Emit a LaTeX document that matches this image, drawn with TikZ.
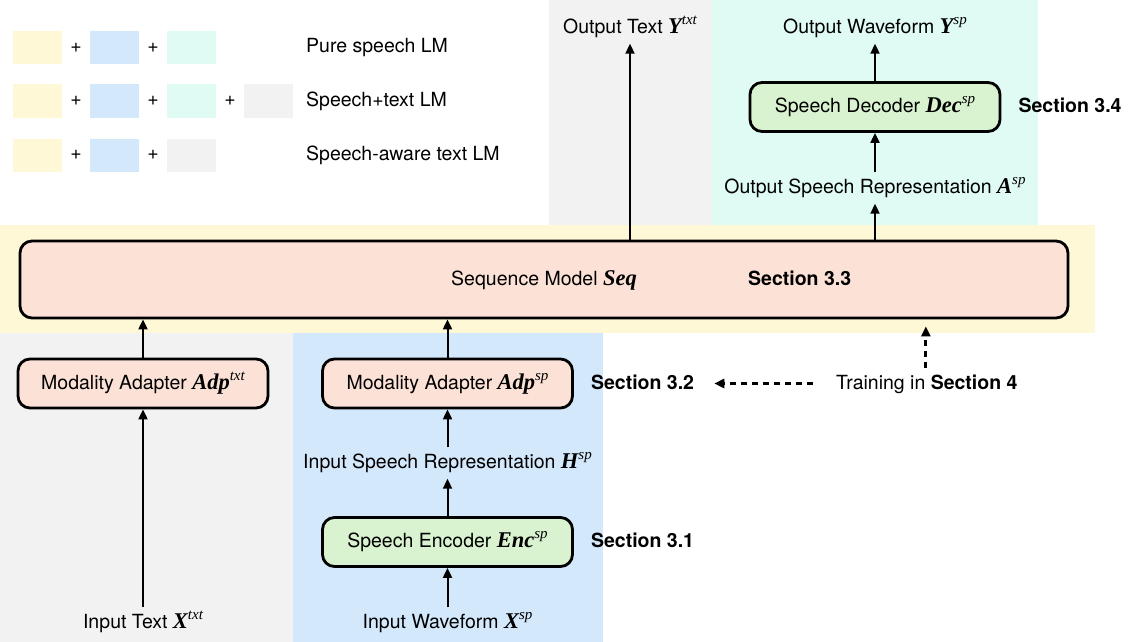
\documentclass[tikz,border=0pt]{standalone}
\usepackage{fontspec}
\setmainfont{TeX Gyre Heros}
\newfontfamily\varfont{Liberation Serif}
\usetikzlibrary{arrows.meta,positioning}
\definecolor{bgyellow}{HTML}{FFF8D6}
\definecolor{bgblue}{HTML}{D4E8FB}
\definecolor{bgcyan}{HTML}{E0FBF4}
\definecolor{bggray}{HTML}{F2F2F2}
\definecolor{boxpink}{HTML}{FBE1D6}
\definecolor{boxgreen}{HTML}{D9F2D0}
\newcommand{\mvar}[2]{{\varfont\bfseries\itshape\fontsize{22.5}{24}\selectfont #1\raisebox{0.4em}{\mdseries\fontsize{15}{16}\selectfont #2}}}
\tikzset{
	block/.style={draw,line width=2.8pt,rounded corners=12pt,minimum width=250pt,minimum height=49pt,inner sep=0pt,text height=15pt,text depth=4pt},
	pinkblock/.style={block,fill=boxpink},
	greenblock/.style={block,fill=boxgreen},
	lbl/.style={inner xsep=0pt,inner ysep=6pt,text height=15pt,text depth=4pt},
	sect/.style={font=\fontsize{19.5}{23}\selectfont\bfseries,inner sep=0pt,text height=15pt,text depth=4pt},
	flow/.style={-{Triangle[length=10pt,width=9pt]},line width=2pt},
	trainflow/.style={flow,dash pattern=on 6pt off 5pt,line width=2.8pt}
}

\begin{document}
\begin{tikzpicture}[x=1pt,y=-1pt,font=\fontsize{19.5}{23}\selectfont]
\useasboundingbox (0,0) rectangle (1130,642);
% background regions
\fill [bggray]   (549,0)   rectangle (712,225);
\fill [bgcyan]   (712,0)   rectangle (1038,225);
\fill [bgyellow] (0,225)   rectangle (1095,333);
\fill [bggray]   (0,333)   rectangle (293,642);
\fill [bgblue]   (293,333) rectangle (603,642);

% legend
\foreach \ylev/\cols in {47.5/{bgyellow,bgblue,bgcyan},101/{bgyellow,bgblue,bgcyan,bggray},155/{bgyellow,bgblue,bggray}}
	\foreach \c [count=\i] in \cols {
		\fill [\c] (13+77*\i-77,\ylev-16.5) rectangle +(49,33);
		\ifnum\i>1 \node at (77*\i-78,\ylev) {+}; \fi
	};
\node [lbl,anchor=west] (lgpure)  at (306,47.5) {Pure speech LM};
\node [lbl,anchor=west] (lgmix)   at (306,101)  {Speech+text LM};
\node [lbl,anchor=west] (lgaware) at (306,155)  {Speech-aware text LM};

% blocks
\node [pinkblock,minimum width=1048pt,minimum height=77pt] (seq) at (544,279.5) {Sequence Model \mvar{Seq}{}};
\node [sect,anchor=west] (sec33) at (748,280) {Section 3.3};
\node [pinkblock] (adptxt) at (143,383.5) {Modality Adapter \mvar{Adp}{txt}};
\node [pinkblock] (adpsp)  at (447.5,383.5) {Modality Adapter \mvar{Adp}{sp}};
\node [greenblock] (enc) at (447.5,542) {Speech Encoder \mvar{Enc}{sp}};
\node [greenblock] (dec) at (875,107) {Speech Decoder \mvar{Dec}{sp}};
\node [sect,right=17pt of adpsp] (sec32) {Section 3.2};
\node [sect,right=17pt of enc]   (sec31) {Section 3.1};
\node [sect,right=17pt of dec]   (sec34) {Section 3.4};

% inputs and outputs
\node [lbl] (xtxt) at (143,623)   {Input Text \mvar{X}{txt}};
\node [lbl] (xsp)  at (447.5,623) {Input Waveform \mvar{X}{sp}};
\node [lbl] (hsp)  at (447.5,463) {Input Speech Representation \mvar{H}{sp}};
\node [lbl] (asp)  at (875,188)   {Output Speech Representation \mvar{A}{sp}};
\node [lbl] (ytxt) at (630,28)    {Output Text \mvar{Y}{txt}};
\node [lbl] (ysp)  at (875,28)    {Output Waveform \mvar{Y}{sp}};
\node [lbl,anchor=west] (train) at (836,383.5) {Training in \textbf{Section 4}};

% connectors
\draw [flow] (xtxt) -- (adptxt);
\draw [flow] (adptxt) -- (adptxt |- seq.south);
\draw [flow] (xsp) -- (enc);
\draw [flow] (enc) -- (hsp);
\draw [flow] (hsp) -- (adpsp);
\draw [flow] (adpsp) -- (adpsp |- seq.south);
\draw [flow] (seq.north -| ytxt) -- (ytxt);
\draw [flow] (seq.north -| asp) -- (asp);
\draw [flow] (asp) -- (dec);
\draw [flow] (dec) -- (ysp);
\draw [trainflow,shorten <=23pt,shorten >=20pt] (train) -- (sec32);
\draw [trainflow,shorten >=7pt] ([xshift=-1pt]train.north) -- ([xshift=-1pt]train.north |- seq.south);
\end{tikzpicture}
\end{document}
